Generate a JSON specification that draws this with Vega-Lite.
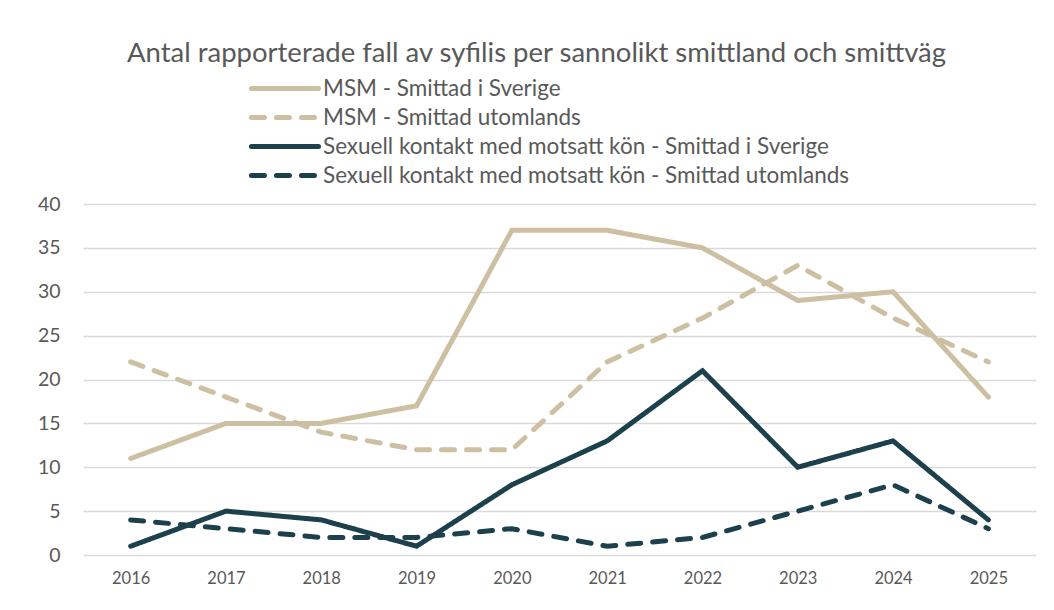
{
  "$schema": "https://vega.github.io/schema/vega-lite/v6.json",
  "autosize": {"type": "none"},
  "width": 953,
  "height": 351,
  "padding": {"left": 83, "top": 204, "right": 18, "bottom": 55},
  "background": "white",
  "title": {
    "text": "Antal rapporterade fall av syfilis per sannolikt smittland och smittväg",
    "font": "Lato",
    "fontSize": 27.5,
    "fontWeight": "normal",
    "color": "#595959",
    "anchor": "middle",
    "dx": -23,
    "offset": 4
  },
  "config": {
    "view": {"stroke": null},
    "font": "Lato"
  },
  "data": {
    "values": [
      {"year": "2016", "series": "MSM - Smittad i Sverige", "value": 11},
      {"year": "2017", "series": "MSM - Smittad i Sverige", "value": 15},
      {"year": "2018", "series": "MSM - Smittad i Sverige", "value": 15},
      {"year": "2019", "series": "MSM - Smittad i Sverige", "value": 17},
      {"year": "2020", "series": "MSM - Smittad i Sverige", "value": 37},
      {"year": "2021", "series": "MSM - Smittad i Sverige", "value": 37},
      {"year": "2022", "series": "MSM - Smittad i Sverige", "value": 35},
      {"year": "2023", "series": "MSM - Smittad i Sverige", "value": 29},
      {"year": "2024", "series": "MSM - Smittad i Sverige", "value": 30},
      {"year": "2025", "series": "MSM - Smittad i Sverige", "value": 18},
      {"year": "2016", "series": "MSM - Smittad utomlands", "value": 22},
      {"year": "2017", "series": "MSM - Smittad utomlands", "value": 18},
      {"year": "2018", "series": "MSM - Smittad utomlands", "value": 14},
      {"year": "2019", "series": "MSM - Smittad utomlands", "value": 12},
      {"year": "2020", "series": "MSM - Smittad utomlands", "value": 12},
      {"year": "2021", "series": "MSM - Smittad utomlands", "value": 22},
      {"year": "2022", "series": "MSM - Smittad utomlands", "value": 27},
      {"year": "2023", "series": "MSM - Smittad utomlands", "value": 33},
      {"year": "2024", "series": "MSM - Smittad utomlands", "value": 27},
      {"year": "2025", "series": "MSM - Smittad utomlands", "value": 22},
      {"year": "2016", "series": "Sexuell kontakt med motsatt kön - Smittad i Sverige", "value": 1},
      {"year": "2017", "series": "Sexuell kontakt med motsatt kön - Smittad i Sverige", "value": 5},
      {"year": "2018", "series": "Sexuell kontakt med motsatt kön - Smittad i Sverige", "value": 4},
      {"year": "2019", "series": "Sexuell kontakt med motsatt kön - Smittad i Sverige", "value": 1},
      {"year": "2020", "series": "Sexuell kontakt med motsatt kön - Smittad i Sverige", "value": 8},
      {"year": "2021", "series": "Sexuell kontakt med motsatt kön - Smittad i Sverige", "value": 13},
      {"year": "2022", "series": "Sexuell kontakt med motsatt kön - Smittad i Sverige", "value": 21},
      {"year": "2023", "series": "Sexuell kontakt med motsatt kön - Smittad i Sverige", "value": 10},
      {"year": "2024", "series": "Sexuell kontakt med motsatt kön - Smittad i Sverige", "value": 13},
      {"year": "2025", "series": "Sexuell kontakt med motsatt kön - Smittad i Sverige", "value": 4},
      {"year": "2016", "series": "Sexuell kontakt med motsatt kön - Smittad utomlands", "value": 4},
      {"year": "2017", "series": "Sexuell kontakt med motsatt kön - Smittad utomlands", "value": 3},
      {"year": "2018", "series": "Sexuell kontakt med motsatt kön - Smittad utomlands", "value": 2},
      {"year": "2019", "series": "Sexuell kontakt med motsatt kön - Smittad utomlands", "value": 2},
      {"year": "2020", "series": "Sexuell kontakt med motsatt kön - Smittad utomlands", "value": 3},
      {"year": "2021", "series": "Sexuell kontakt med motsatt kön - Smittad utomlands", "value": 1},
      {"year": "2022", "series": "Sexuell kontakt med motsatt kön - Smittad utomlands", "value": 2},
      {"year": "2023", "series": "Sexuell kontakt med motsatt kön - Smittad utomlands", "value": 5},
      {"year": "2024", "series": "Sexuell kontakt med motsatt kön - Smittad utomlands", "value": 8},
      {"year": "2025", "series": "Sexuell kontakt med motsatt kön - Smittad utomlands", "value": 3}
    ]
  },
  "mark": {"type": "line", "strokeWidth": 5, "strokeCap": "round", "strokeJoin": "miter"},
  "encoding": {
    "x": {
      "field": "year",
      "type": "ordinal",
      "scale": {"type": "point", "padding": 0.5},
      "axis": {
        "title": null,
        "labelAngle": 0,
        "domain": false,
        "ticks": false,
        "labelFont": "Lato",
        "labelFontSize": 16.5,
        "labelColor": "#595959",
        "labelPadding": 15
      }
    },
    "y": {
      "field": "value",
      "type": "quantitative",
      "scale": {"domain": [0, 40], "nice": false},
      "axis": {
        "title": null,
        "values": [0, 5, 10, 15, 20, 25, 30, 35, 40],
        "domain": false,
        "ticks": false,
        "grid": true,
        "gridColor": "#D9D9D9",
        "gridWidth": 1.5,
        "labelFont": "Lato",
        "labelFontSize": 19.5,
        "labelColor": "#595959",
        "labelPadding": 23
      }
    },
    "color": {
      "field": "series",
      "type": "nominal",
      "scale": {
        "domain": [
          "MSM - Smittad i Sverige",
          "MSM - Smittad utomlands",
          "Sexuell kontakt med motsatt kön - Smittad i Sverige",
          "Sexuell kontakt med motsatt kön - Smittad utomlands"
        ],
        "range": ["#CDBFA2", "#CDBFA2", "#1D414C", "#1D414C"]
      },
      "legend": {
        "title": null,
        "orient": "none",
        "legendX": 203,
        "legendY": -133,
        "padding": 0,
        "symbolType": "M-3.47,0H1",
        "symbolSize": 900,
        "symbolStrokeWidth": 5,
        "labelFont": "Lato",
        "labelFontSize": 22.5,
        "labelColor": "#595959",
        "labelOffset": 2,
        "rowPadding": -9,
        "labelLimit": 800,
        "encode": {"symbols": {"update": {"strokeCap": {"value": "round"}}}}
      }
    },
    "strokeDash": {
      "field": "series",
      "type": "nominal",
      "scale": {
        "domain": [
          "MSM - Smittad i Sverige",
          "MSM - Smittad utomlands",
          "Sexuell kontakt med motsatt kön - Smittad i Sverige",
          "Sexuell kontakt med motsatt kön - Smittad utomlands"
        ],
        "range": [[1, 0], [13, 12], [1, 0], [13, 12]]
      },
      "legend": null
    }
  }
}
